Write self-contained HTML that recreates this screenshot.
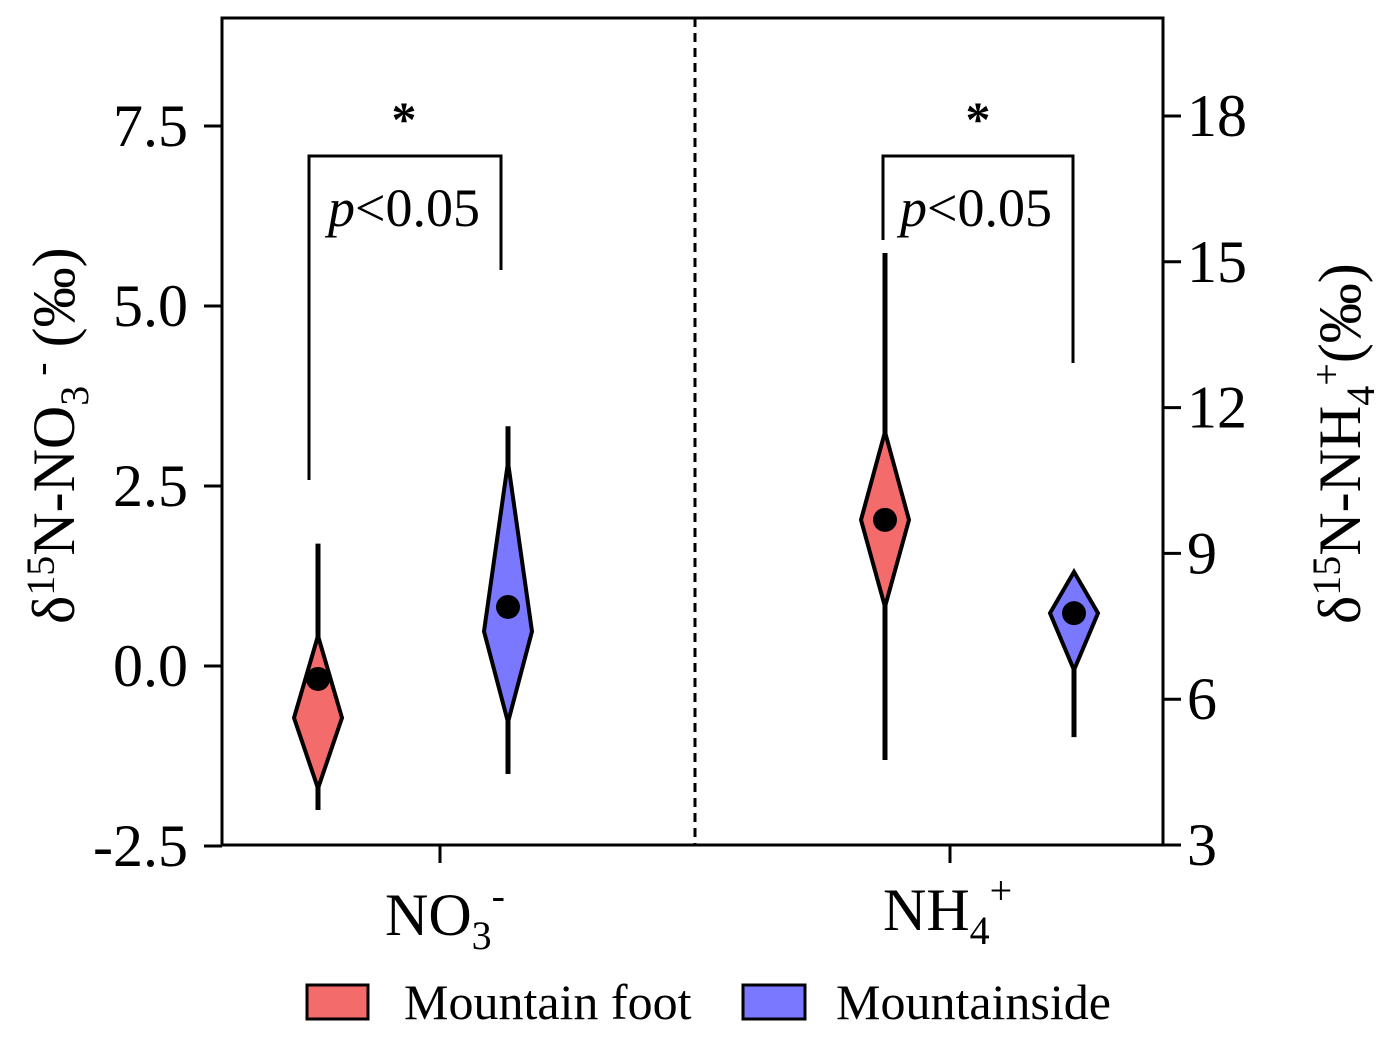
<!DOCTYPE html>
<html><head><meta charset="utf-8"><style>
body{margin:0;background:#fff}
svg{display:block;font-family:"Liberation Serif",serif}
</style></head><body>
<svg id="chart" width="1395" height="1038" viewBox="0 0 1395 1038">
<g id="axes"></g>
<g id="marks"></g>
</svg>
<script>
const categories=["NO3","NH4"];
const groups=["Mountain foot","Mountainside"];
// [whiskerLow, diamondLow, diamondMid, diamondHigh, whiskerHigh, mean]
const no3Foot=[-2.0,-1.7,-0.72,0.42,1.7,-0.18];
const no3Side=[-1.5,-0.78,0.48,2.83,3.33,0.82];
const nh4Foot=[4.75,7.9,9.69,11.5,15.18,9.69];
const nh4Side=[5.22,6.6,7.77,8.62,8.45,7.77];
const leftTicks=[-2.5,0.0,2.5,5.0,7.5];
const rightTicks=[3,6,9,12,15,18];
const colors=["#f46b6b","#7a78ff"];
const NS="http://www.w3.org/2000/svg";
const L=222,R=1163,T=18,B=845;
function yL(v){return 666-v*72;}
function yR(v){return 845-(v-3)*48.6;}
function mk(tag,attrs,parent){const e=document.createElementNS(NS,tag);for(const k in attrs)e.setAttribute(k,attrs[k]);parent.appendChild(e);return e;}
const ax=document.getElementById('axes'),mg=document.getElementById('marks');
let f=mk('rect',{x:L,y:T,width:R-L,height:B-T,fill:'none',stroke:'#000','stroke-width':3},ax);


let dv=mk('line',{x1:695,y1:T,x2:695,y2:B,stroke:'#000','stroke-width':3,'stroke-dasharray':'9,6'},ax);


leftTicks.forEach(v=>{const y=yL(v);
 mk('line',{x1:L-18,y1:y,x2:L,y2:y,stroke:'#000','stroke-width':3},ax);
 const t=mk('text',{x:L-34,y:y+20,'text-anchor':'end','font-size':60},ax);t.textContent=v.toFixed(1);
 
 });
rightTicks.forEach(v=>{const y=yR(v);
 mk('line',{x1:R,y1:y,x2:R+18,y2:y,stroke:'#000','stroke-width':3},ax);
 const t=mk('text',{x:R+24,y:y+20,'font-size':60},ax);t.textContent=v;
 
 });
[440,950].forEach(x=>mk('line',{x1:x,y1:B,x2:x,y2:B+18,stroke:'#000','stroke-width':3},ax));
function violin(x,d,yf,c,name){
 const g=mk('g',{},mg);
 
 
 mk('line',{x1:x,y1:yf(d[0]),x2:x,y2:yf(Math.max(d[4],d[3])),stroke:'#000','stroke-width':5},g);
 const w=24;
 mk('polygon',{points:`${x},${yf(d[3])} ${x+w},${yf(d[2])} ${x},${yf(d[1])} ${x-w},${yf(d[2])}`,fill:c,stroke:'#000','stroke-width':4},g);
 mk('circle',{cx:x,cy:yf(d[5]),r:12,fill:'#000'},g);
}
violin(318,no3Foot,yL,colors[0],'no3-mountain-foot');
violin(508,no3Side,yL,colors[1],'no3-mountainside');
violin(885,nh4Foot,yR,colors[0],'nh4-mountain-foot');
violin(1074,nh4Side,yR,colors[1],'nh4-mountainside');
</script>
<svg style="position:absolute;left:0;top:0" width="1395" height="1038">
<g fill="none" stroke="#000" stroke-width="3">
<polyline points="309,480 309,156 501,156 501,270"/>
<polyline points="883,240 883,156 1073,156 1073,363"/>
</g>
<g font-family="Liberation Serif,serif" font-size="60">
<text x="404" y="136" text-anchor="middle" font-size="50" font-weight="bold">*</text>
<text x="978" y="136" text-anchor="middle" font-size="50" font-weight="bold">*</text>
<text x="328" y="226" font-size="54"><tspan font-style="italic">p</tspan>&lt;0.05</text>
<text x="900" y="226" font-size="54"><tspan font-style="italic">p</tspan>&lt;0.05</text>
<text x="385" y="935">NO<tspan font-size="40" dy="14">3</tspan><tspan font-size="40" dy="-40">-</tspan></text>
<text x="883" y="930">NH<tspan font-size="40" dy="14">4</tspan><tspan font-size="40" dy="-40">+</tspan></text>
<text transform="translate(74,624) rotate(-90)">δ<tspan font-size="40" dy="-20">15</tspan><tspan dy="20">N-NO</tspan><tspan font-size="40" dy="14">3</tspan><tspan font-size="40" dy="-34"> -</tspan><tspan dy="20"> (‰)</tspan></text>
<text transform="translate(1360,624) rotate(-90)">δ<tspan font-size="40" dy="-20">15</tspan><tspan dy="20">N-NH</tspan><tspan font-size="40" dy="14">4</tspan><tspan font-size="40" dy="-34">+</tspan><tspan dy="20">(‰)</tspan></text>
<g font-size="50">
<rect x="307" y="985" width="61" height="34" fill="#f46b6b" stroke="#000" stroke-width="3"/>
<text x="404" y="1019">Mountain foot</text>
<rect x="743" y="985" width="62" height="34" fill="#7a78ff" stroke="#000" stroke-width="3"/>
<text x="836" y="1019">Mountainside</text>
</g>
</g>
</svg>
</body></html>
